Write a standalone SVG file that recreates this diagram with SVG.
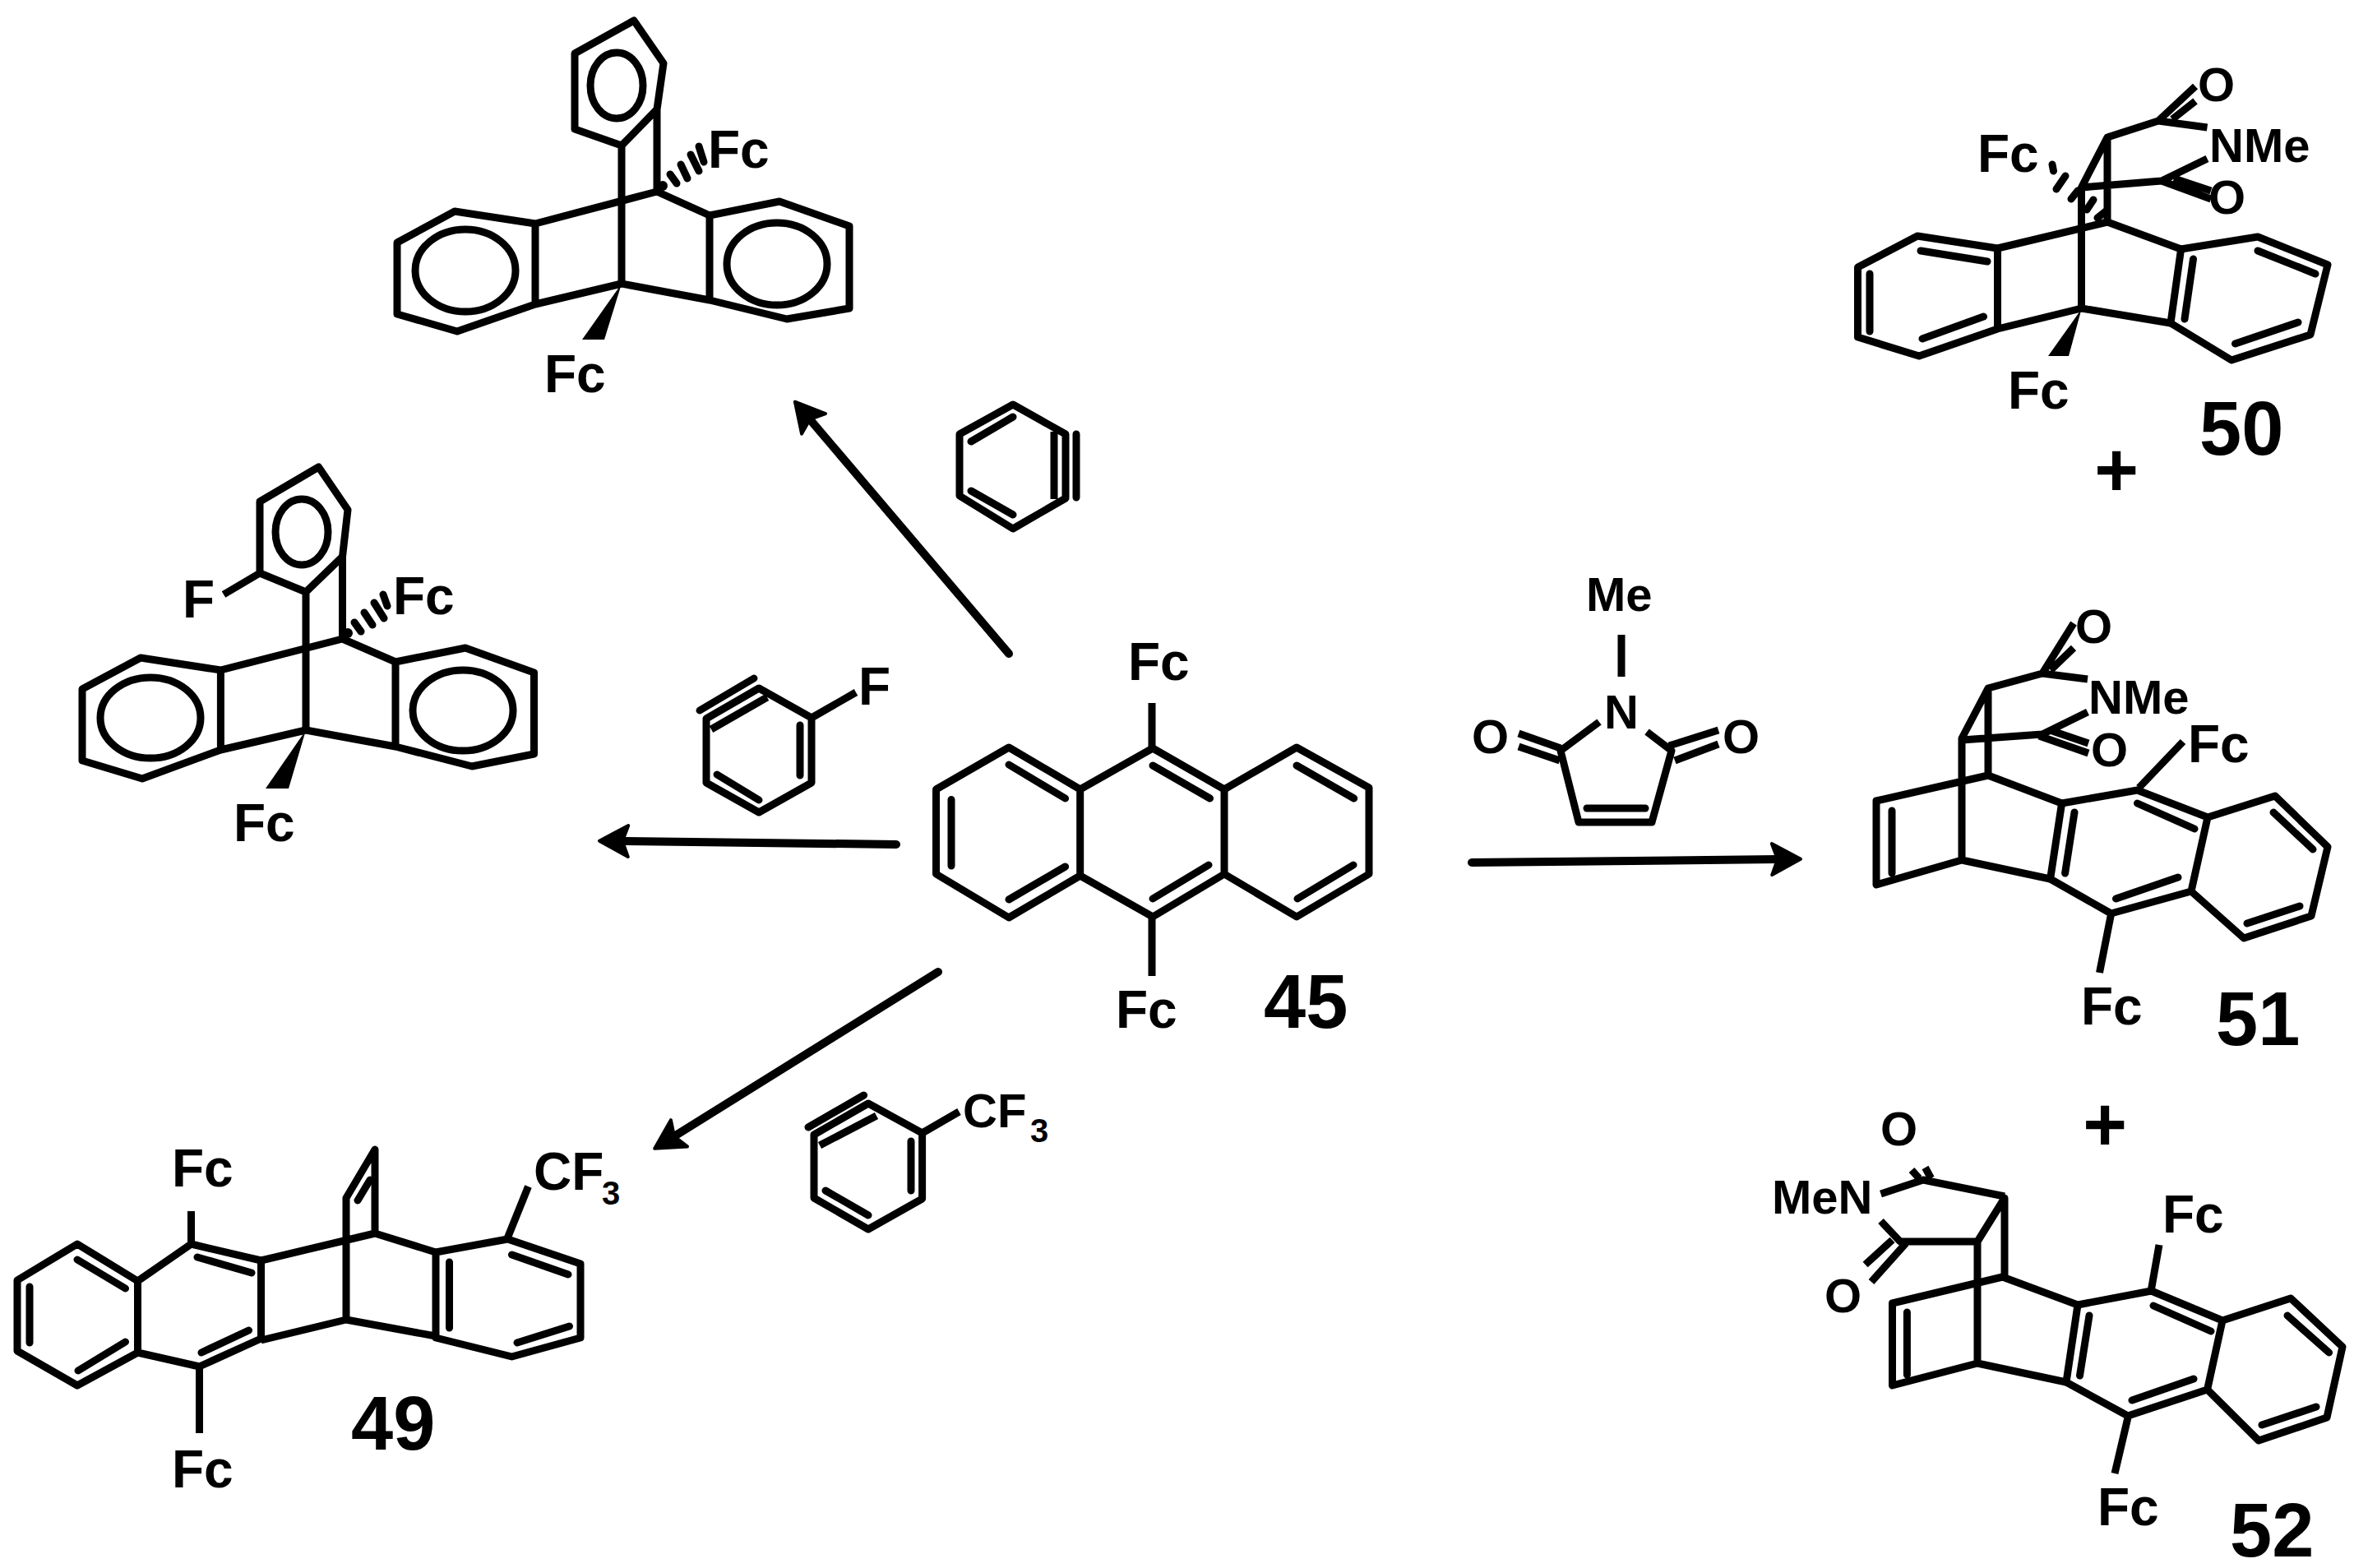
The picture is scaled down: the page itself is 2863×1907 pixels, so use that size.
<svg xmlns="http://www.w3.org/2000/svg" width="2863" height="1907" viewBox="0 0 2863 1907">
<style>
.b{fill:none;stroke:#000;stroke-width:9;stroke-linejoin:round;stroke-linecap:butt}
.r{fill:none;stroke:#000;stroke-width:9;stroke-linecap:round;stroke-linejoin:round}
.w{fill:#000;stroke:none}
.a{fill:none;stroke:#000;stroke-width:10;stroke-linecap:round;marker-end:url(#arrow)}
text{font-family:"Liberation Sans",Arial,sans-serif;font-weight:700;fill:#000}
.t{font-size:64px}
.s{font-size:58px}
.n{font-size:92px}
.u{font-size:40px}
</style>
<defs>
<marker id="arrow" markerUnits="userSpaceOnUse" markerWidth="60" markerHeight="60" refX="12" refY="30" orient="auto">
<path d="M5,11 L40,30 L5,49 L12,30 Z" fill="#000" stroke="#000" stroke-width="4" stroke-linejoin="round"/>
</marker>
</defs>
<rect width="2863" height="1907" fill="#fff"/>
<g id="connectors">
<path class="a" d="M1227,795 L985,510"/>
<path class="a" d="M1090,1027 L757,1023"/>
<path class="a" d="M1141,1182 L820,1382"/>
<path class="a" d="M1790,1049 L2162,1045"/>
</g>
<g id="triptycene-top">
<path class="b" d="M771,25 L699,65 L699,157 L756,177 L799,133 L807,77 Z M756,177 L756,345 M799,133 L799,233"/>
<ellipse class="b" cx="750" cy="104" rx="32" ry="40"/>
<path class="b" d="M651,272 L553,257 L483,295 L483,382 L556,403 L651,370 Z M651,272 L799,233 L863,262 M651,370 L756,345 L863,365"/>
<path class="b" d="M863,262 L948,245 L1033,275 L1033,375 L957,388 L863,365 Z"/>
<ellipse class="b" cx="566" cy="329" rx="61" ry="50"/>
<ellipse class="b" cx="945" cy="321" rx="61" ry="50"/>
<polygon class="w" points="756,345 708,413 735,413"/>
<path class="r" d="M815,212 L823,223 M828,200 L836,217 M840,188 L850,208 M850,178 L856,197"/>
<circle class="w" cx="806" cy="226" r="6"/>
<text class="t" x="861" y="204">Fc</text>
<text class="t" x="662" y="477">Fc</text>
</g>
<g id="triptycene-fluoro">
<path class="b" d="M387.5,568 L316,610 L316,697 L372,720 L416.500,677 L423,620 Z M372,720 L372,888 M416.500,677 L416.500,777 M316,697 L272,723"/>
<ellipse class="b" cx="367" cy="647" rx="32" ry="40"/>
<path class="b" d="M268.400,815 L171,800 L100,838 L100,925 L173,947 L268.400,912 Z M268.400,815 L416.500,777 L481,805 M268.400,912 L372,888 L481,908"/>
<path class="b" d="M481,805 L566,788 L649.500,818 L649.500,917 L574,932 L481,908 Z"/>
<ellipse class="b" cx="183" cy="873" rx="61" ry="49"/>
<ellipse class="b" cx="563" cy="864" rx="61" ry="49"/>
<polygon class="w" points="372,888 323,959 351,959"/>
<path class="r" d="M431,757 L439,768 M443,745 L453,760 M455,733 L467,752 M466,723 L471,737"/>
<circle class="w" cx="423" cy="770" r="6"/>
<text class="t" x="222" y="751">F</text>
<text class="t" x="478" y="747">Fc</text>
<text class="t" x="284" y="1023">Fc</text>
</g>
<g id="compound-49">
<path class="b" d="M94,1513 L21,1557 L21,1643 L94,1685 L167.500,1645 L167.500,1558 Z M167.500,1558 L232.500,1513 L317.500,1533 L317.500,1628 L242.500,1662 L167.500,1645"/>
<path class="r" d="M94,1532 L152.500,1567 M36,1565 L36,1633 M95,1667 L152.500,1632 M240,1529 L306,1548 M245,1645 L302.500,1618"/>
<path class="b" d="M232.500,1512 L232.500,1473 M242.500,1663 L242.500,1743"/>
<path class="b" d="M317.500,1533 L456,1500 L530,1523 M317.500,1630 L421,1605 L530,1625 M421,1605 L421,1457 L456,1398 L456,1500"/>
<path class="r" d="M435,1460 L450,1435 M622.500,1526 L691,1550 M546.500,1535 L546.500,1615 M629,1633 L692.500,1613"/>
<path class="b" d="M530,1523 L617.500,1507 L706,1537 L706,1627 L622.500,1650 L530,1627 Z M617.500,1505 L642.500,1443"/>
<text class="t" x="209" y="1443">Fc</text>
<text class="t" x="209" y="1809">Fc</text>
<text class="t" x="649" y="1447">CF<tspan class="u" x="732" y="1465">3</tspan></text>
<text class="n" x="427" y="1763">49</text>
</g>
<g id="compound-45">
<path class="b" d="M1227,909 L1138.500,960 L1138.500,1063 L1227,1116 L1313.700,1065 L1313.700,960 Z M1313.700,960 L1402,910 L1489,960 L1489,1063 L1402,1115 L1313.700,1065"/>
<path class="b" d="M1489,960 L1577,909 L1665,958 L1665,1063 L1577,1115 L1489,1063"/>
<path class="r" d="M1227,930 L1295.600,971 M1157,972.500 L1157,1053 M1227,1094 L1295.600,1054 M1402,931 L1471.500,971 M1402,1093 L1470,1052 M1577,931 L1646.700,971 M1578,1093 L1646,1052"/>
<path class="b" d="M1401,909 L1401,855 M1401,1116 L1401,1187"/>
<text class="t" x="1372" y="827">Fc</text>
<text class="t" x="1357" y="1250">Fc</text>
<text class="n" x="1537" y="1250">45</text>
</g>
<g id="reagent-benzyne">
<path class="b" d="M1232,492 L1167,528 L1167,603 L1232,643 L1296,606 L1296,528 Z M1282,525 L1282,607"/>
<path class="r" d="M1181,537 L1232,507 M1181,597 L1232,626 M1309,528 L1309,605"/>
</g>
<g id="reagent-fluorobenzyne">
<path class="b" d="M923,837 L859,874 L859,952 L923,988 L987,952 L987,873 Z M987,873 L1041,842 M865,887 L933,848"/>
<path class="r" d="M851,864 L917,825 M973,882 L973,943 M872,942 L923,973"/>
<text class="t" x="1044" y="857">F</text>
</g>
<g id="reagent-cf3-benzyne">
<path class="b" d="M1056,1342 L990,1380 L990,1457 L1056,1495 L1121.600,1458 L1121.600,1378 Z M1121.600,1378 L1166.500,1352 M997,1393 L1066,1357"/>
<path class="r" d="M983,1371 L1050.600,1332 M1108,1388 L1108,1448 M1004,1448 L1056,1478"/>
<text class="s" x="1171" y="1371">CF<tspan class="u" x="1253" y="1389">3</tspan></text>
</g>
<g id="reagent-maleimide">
<path class="b" d="M1972,772 L1972,823 M1945,878 L1898,913 L1920,1000 L2009,1000 L2033,913 L2003,890 M1847,892 L1898,910 M1847,908 L1897,925 M2090,888 L2030,907 M2090,905 L2037,925"/>
<path class="r" d="M1930,983 L2001,983"/>
<text class="s" x="1929" y="743">Me</text>
<text class="s" x="1951" y="886">N</text>
<text class="s" x="1790" y="916">O</text>
<text class="s" x="2095" y="916">O</text>
</g>
<g id="compound-50">
<path class="b" d="M2332,287 L2259.500,325 L2259.500,410 L2334,433 L2429.500,400 L2429.500,302 Z M2429.500,302 L2563,270 L2652.600,303 M2429.500,400 L2531.500,375 L2640,393"/>
<path class="r" d="M2336,305 L2417,318 M2274,333 L2274,403 M2338,412 L2412.500,385 M2667.500,315 L2657,388 M2746,305 L2816,333 M2718.500,418 L2795,392"/>
<path class="b" d="M2652.600,303 L2746,288 L2831,322 L2810,407 L2714,438 L2640,393 Z"/>
<path class="b" d="M2531.500,375 L2531.500,228 L2563,167 L2563,270 M2563,167 L2625,147 L2684.500,155 M2625,147 L2670,105 M2642,145 L2670,123 M2531.500,228 L2629,220 L2684.500,193 M2629,220 L2689,242 M2644,217 L2689,232"/>
<polygon class="w" points="2531.500,376 2491,433 2516,433"/>
<path class="r" d="M2496,200 L2497.500,208 M2501,230 L2512,214 M2519,242 L2527,232 M2538,255 L2546,243 M2551,265 L2561,257"/>
<text class="t" x="2405" y="209">Fc</text>
<text class="t" x="2442" y="497">Fc</text>
<text class="s" x="2673" y="123">O</text>
<text class="s" x="2687" y="197">NMe</text>
<text class="s" x="2686" y="260">O</text>
<text class="n" x="2675" y="553">50</text>
<text class="n" x="2574" y="603" text-anchor="middle">+</text>
</g>
<g id="compound-51">
<path class="b" d="M2386,1046 L2282,1076 L2282,974 L2418,943 L2507.600,977 M2386,1046 L2493.600,1069 M2386,1046 L2386,898 L2418,837 L2418,943 M2418,837 L2484,819 L2539,826 M2484,819 L2522,758 M2494,815 L2522,788 M2386,900 L2484,893 L2539,866 M2480,895 L2540,916 M2496,889 L2540,904"/>
<path class="b" d="M2507.600,977 L2599.500,961 L2685,994 L2665,1084 L2567.500,1111 L2493.600,1069 Z M2685,994 L2767,968 L2831,1030 L2811,1114 L2729,1141 L2665,1084 M2601.500,958 L2655,902 M2567.500,1112 L2553.500,1183"/>
<path class="r" d="M2301,986 L2301,1062 M2523,988 L2511.600,1062 M2599.500,977 L2669,1008 M2573.500,1093 L2649,1067 M2765,988 L2813,1033 M2733,1123 L2797,1102"/>
<text class="s" x="2524" y="782">O</text>
<text class="s" x="2540" y="868">NMe</text>
<text class="s" x="2543" y="932">O</text>
<text class="t" x="2661" y="927">Fc</text>
<text class="t" x="2531" y="1246">Fc</text>
<text class="n" x="2695" y="1271">51</text>
</g>
<g id="compound-52">
<text class="n" x="2560" y="1399" text-anchor="middle">+</text>
<path class="b" d="M2405,1658 L2301.500,1685 L2301.500,1585 L2435.500,1553 L2527,1587 M2405,1658 L2513,1681 M2405,1658 L2405,1510 L2438,1457 L2438,1553 M2438,1455 L2339,1435 L2287.500,1452 M2405,1510 L2311,1510 L2287.500,1485 M2318,1512 L2276,1559 M2301.500,1508 L2268.600,1538 M2325,1423 L2334,1433 M2341.500,1420 L2348.500,1433"/>
<path class="b" d="M2527,1587 L2616.500,1570 L2703,1606 L2684.600,1690 L2588,1722 L2513,1681 Z M2703,1606 L2786,1579 L2849,1638 L2830,1724 L2747,1752 L2684.600,1690 M2616.500,1568 L2626,1514 M2588,1724 L2572,1792"/>
<path class="r" d="M2319.400,1596 L2319.400,1672 M2541,1600 L2529.500,1673 M2619,1588 L2689,1619 M2593,1703 L2668,1677 M2782,1600 L2832.600,1645 M2751,1733 L2817,1711"/>
<text class="s" x="2287" y="1393">O</text>
<text class="s" x="2155" y="1476">MeN</text>
<text class="s" x="2219" y="1596">O</text>
<text class="t" x="2630" y="1499">Fc</text>
<text class="t" x="2551" y="1855">Fc</text>
<text class="n" x="2712" y="1893">52</text>
</g>
</svg>
